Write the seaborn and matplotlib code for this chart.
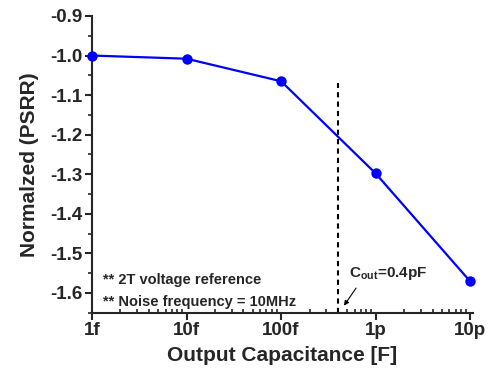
import matplotlib
matplotlib.use("Agg")
import matplotlib.pyplot as plt
from matplotlib.ticker import FixedLocator, LogLocator, NullFormatter, MultipleLocator
import seaborn as sns
import pandas as pd
import numpy as np

# Data
capacitance = [1e-15, 1e-14, 1e-13, 1e-12, 1e-11]
psrr_norm = [-1.0, -1.008, -1.065, -1.298, -1.571]
x_tick_vals = [1e-15, 1e-14, 1e-13, 1e-12, 1e-11]
x_tick_labels = ["1f", "10f", "100f", "1p", "10p"]
y_tick_vals = [-0.9, -1.0, -1.1, -1.2, -1.3, -1.4, -1.5, -1.6]
cout_val = 0.4e-12
cout_top = -1.07

sns.set_style("ticks")
plt.rcParams['font.family'] = ['Liberation Sans', 'DejaVu Sans']
plt.rcParams['font.weight'] = 'bold'
plt.rcParams['mathtext.fontset'] = 'custom'
plt.rcParams['mathtext.rm'] = 'Liberation Sans:bold'
plt.rcParams['mathtext.it'] = 'Liberation Sans:bold'
plt.rcParams['mathtext.bf'] = 'Liberation Sans:bold'

fig = plt.figure(figsize=(5.02, 3.78), dpi=100)
ax = fig.add_axes([0.1833, 0.1728, 0.9422 - 0.1833, 0.9577 - 0.1728])

df = pd.DataFrame({"C": capacitance, "P": psrr_norm})
sns.lineplot(data=df, x="C", y="P", ax=ax, color="#0000ff", linewidth=1.6,
             marker="o", markersize=7.5, markeredgewidth=0, markerfacecolor="#0000ff",
             clip_on=False, zorder=5)

ax.set_xscale("log")
ax.set_xlim(1e-15, 1.07e-11)
ax.set_ylim(-1.65, -0.9)

ax.plot([cout_val, cout_val], [-1.65, cout_top], linestyle=(0, (2.5, 2)), color="black", linewidth=1.5)

ax.xaxis.set_major_locator(FixedLocator(x_tick_vals))
ax.set_xticklabels(x_tick_labels)
ax.xaxis.set_minor_locator(LogLocator(base=10, subs=np.arange(2, 10)))
ax.xaxis.set_minor_formatter(NullFormatter())
ax.yaxis.set_major_locator(FixedLocator(y_tick_vals))
ax.set_yticklabels([f"{v:.1f}" for v in y_tick_vals])
ax.yaxis.set_minor_locator(MultipleLocator(0.05))

ax.tick_params(axis="both", which="major", labelsize=13.5, width=1.5, length=5, direction="out", pad=2)
ax.tick_params(axis="x", which="minor", width=1.2, length=3, direction="in")
ax.tick_params(axis="y", which="minor", width=1.2, length=3, direction="out")
for lab in ax.get_xticklabels() + ax.get_yticklabels():
    lab.set_fontweight("bold")

for s in ["left", "bottom"]:
    ax.spines[s].set_linewidth(1.5)
sns.despine(ax=ax)

ax.set_xlabel("Output Capacitance [F]", fontsize=15, fontweight="bold", labelpad=5)
ax.set_ylabel("Normalzed (PSRR)", fontsize=15, fontweight="bold", labelpad=8)

ax.text(0.029, 0.110, "** 2T voltage reference", transform=ax.transAxes, fontsize=10.5, fontweight="bold", va="center")
ax.text(0.029, 0.037, "** Noise frequency = 10MHz", transform=ax.transAxes, fontsize=10.5, fontweight="bold", va="center")

ax.annotate("", xy=(4.45e-13, -1.638), xytext=(6.45e-13, -1.582),
            arrowprops=dict(arrowstyle="-|>", color="black", lw=0.8, mutation_scale=7))
ax.text(cout_val * 1.3, -1.56, r"C$_{\mathrm{out}}$=0.4pF", fontsize=11, fontweight="bold", va="baseline")

fig.savefig("out.png", dpi=100)
